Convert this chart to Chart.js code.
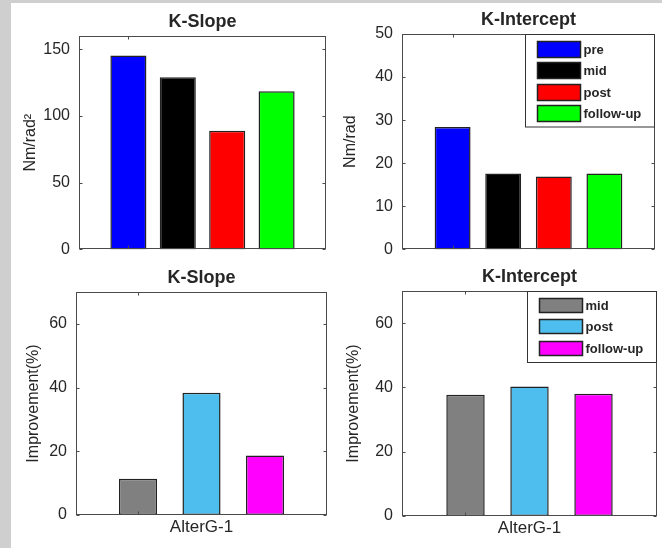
<!DOCTYPE html>
<html>
<head>
<meta charset="utf-8">
<script src="https://cdn.jsdelivr.net/npm/chart.js@4.4.0/dist/chart.umd.min.js"></script>
<style>
  body { margin: 0; background: #fff; }
  #page { position: relative; width: 662px; height: 548px; background: #fff; overflow: hidden; }
  .frame-top { position: absolute; left: 0; top: 0; width: 662px; height: 3px; background: #cfcfcf; }
  .frame-left { position: absolute; left: 0; top: 0; width: 11px; height: 548px; background: #cfcfcf; }
  canvas { position: absolute; }
</style>
</head>
<body>
<div id="page">
  <div class="frame-top"></div>
  <div class="frame-left"></div>
  <canvas id="slope"></canvas>
  <canvas id="intercept"></canvas>
  <canvas id="slopeChange"></canvas>
  <canvas id="interceptChange"></canvas>
</div>
<script>
// values
const phaseLabels = ['pre', 'mid', 'post', 'follow-up'];
const phaseColors = ['#0000ff', '#000000', '#ff0000', '#00ff00'];
const kSlope = [145.3, 129.0, 89.0, 118.6];
const kIntercept = [28.4, 17.6, 16.9, 17.6];

const changeLabels = ['mid', 'post', 'follow-up'];
const changeColors = ['#808080', '#4dbeee', '#ff00ff'];
const kSlopeChange = [11.4, 38.4, 18.7];
const kInterceptChange = [37.7, 40.3, 38.0];

const groupNames = ['AlterG-1'];
const slopeTicks = [0, 50, 100, 150];
const interceptTicks = [0, 10, 20, 30, 40, 50];
const changeTicks = [0, 20, 40, 60];

const FONT = "'Liberation Sans', Arial, Helvetica, sans-serif";
const TEXT = '#262626';
const AXIS = '#4a4a4a';

// draws the MATLAB-like box, inner ticks, title and legend
const matlabAxes = {
  id: 'matlabAxes',
  afterDraw(chart, args, opts) {
    const { ctx, chartArea: a, scales } = chart;
    const y = scales.y;
    const L = Math.round(a.left) + 0.5, R = Math.round(a.right) - 0.5;
    const T = Math.round(a.top) + 0.5, B = Math.round(a.bottom) - 0.5;
    ctx.save();
    ctx.strokeStyle = AXIS;
    ctx.lineWidth = 1;
    ctx.strokeRect(L, T, R - L, B - T);

    ctx.beginPath();
    y.ticks.forEach(t => {
      const py = Math.round(y.getPixelForValue(t.value)) + 0.5;
      ctx.moveTo(L, py); ctx.lineTo(L + 3, py);
      ctx.moveTo(R, py); ctx.lineTo(R - 3, py);
    });
    const bx = Math.round(chart.getDatasetMeta(0).data[0].x) + 0.5;
    ctx.moveTo(bx, T); ctx.lineTo(bx, T + 3);
    ctx.moveTo(bx, B); ctx.lineTo(bx, B - 3);
    ctx.stroke();

    ctx.fillStyle = TEXT;
    ctx.font = 'bold 18px ' + FONT;
    ctx.textAlign = 'center';
    ctx.textBaseline = 'alphabetic';
    ctx.fillText(opts.title, (a.left + a.right) / 2, a.top - 9);

    if (opts.legend) {
      const sets = chart.data.datasets;
      const w = 130, rowH = 21.5, pad = 6.5;
      const h = pad + sets.length * rowH;
      const bxL = Math.round(a.right - w) + 0.5;
      ctx.fillStyle = '#fff';
      ctx.fillRect(bxL, T, w, h);
      ctx.strokeStyle = '#333';
      ctx.strokeRect(bxL, T, R - bxL, h);
      ctx.font = 'bold 13px ' + FONT;
      ctx.textAlign = 'left';
      ctx.textBaseline = 'middle';
      sets.forEach((ds, i) => {
        const sy = Math.round(a.top + pad + i * rowH) + 0.5;
        ctx.fillStyle = ds.backgroundColor;
        ctx.fillRect(bxL + 12, sy, 43, opts.swatchH);
        ctx.lineWidth = 1.5;
        ctx.strokeStyle = '#222';
        ctx.strokeRect(bxL + 12, sy, 43, opts.swatchH);
        ctx.fillStyle = TEXT;
        ctx.fillText(ds.label, bxL + 58, sy + opts.swatchH / 2 + 1);
      });
    }
    ctx.restore();
  }
};

// page positions of each panel's axes box
function makePanel(id, spec) {
  const cv = document.getElementById(id);
  const [cl, ct, cw, ch] = spec.canvas;
  cv.width = cw; cv.height = ch;
  cv.style.left = cl + 'px'; cv.style.top = ct + 'px';
  cv.style.width = cw + 'px'; cv.style.height = ch + 'px';
  const left = spec.area[0] - cl, top = spec.area[1] - ct;
  const right = spec.area[2] - cl, bottom = spec.area[3] - ct;

  const datasets = spec.values.map((v, i) => ({
    label: spec.labels[i],
    data: [v],
    backgroundColor: spec.colors[i],
    borderColor: '#222',
    borderWidth: 1.5,
    borderSkipped: false,
    categoryPercentage: spec.catPct,
    barPercentage: spec.barPct
  }));

  return new Chart(cv, {
    type: 'bar',
    data: { labels: spec.xLabels, datasets },
    options: {
      responsive: false,
      animation: false,
      layout: { padding: { left: 0, top: top, right: cw - right, bottom: 0 } },
      plugins: {
        legend: { display: false },
        tooltip: { enabled: false },
        matlabAxes: { title: spec.title, legend: spec.legend, swatchH: spec.swatchH }
      },
      scales: {
        x: {
          grid: { display: false, drawTicks: false },
          border: { display: false },
          ticks: { display: spec.showX, padding: 2, color: TEXT, font: { family: FONT, size: 17 } },
          afterFit: s => { s.height = ch - bottom; }
        },
        y: {
          min: 0,
          max: spec.yMax,
          grid: { display: false, drawTicks: false },
          border: { display: false },
          afterBuildTicks: s => { s.ticks = spec.ticks.map(v => ({ value: v })); },
          ticks: { padding: 9, color: TEXT, font: { family: FONT, size: 16 } },
          title: {
            display: true,
            text: spec.yTitle,
            color: TEXT,
            font: { family: FONT, size: 16 },
            padding: { top: spec.yTitlePad, bottom: 0 }
          },
          afterFit: s => { s.width = left; }
        }
      }
    },
    plugins: [matlabAxes]
  });
}

makePanel('slope', {
  canvas: [11, 3, 320, 265], area: [79, 36, 326, 254],
  title: 'K-Slope', yTitle: 'Nm/rad\u00b2', yTitlePad: 10, yMax: 160, ticks: slopeTicks,
  labels: phaseLabels, colors: phaseColors, values: kSlope, xLabels: [''],
  showX: false, legend: false, catPct: 0.8, barPct: 0.73
});

makePanel('intercept', {
  canvas: [331, 3, 331, 265], area: [402, 34, 655, 251],
  title: 'K-Intercept', yTitle: 'Nm/rad', yTitlePad: 10, yMax: 50, ticks: interceptTicks,
  labels: phaseLabels, colors: phaseColors, values: kIntercept, xLabels: [''],
  showX: false, legend: true, swatchH: 16, catPct: 0.8, barPct: 0.71
});

makePanel('slopeChange', {
  canvas: [11, 268, 320, 280], area: [76, 292, 327, 515],
  title: 'K-Slope', yTitle: 'Improvement(%)', yTitlePad: 13, yMax: 70, ticks: changeTicks,
  labels: changeLabels, colors: changeColors, values: kSlopeChange, xLabels: groupNames,
  showX: true, legend: false, catPct: 0.759, barPct: 0.6
});

makePanel('interceptChange', {
  canvas: [331, 268, 331, 280], area: [402, 291, 657, 516],
  title: 'K-Intercept', yTitle: 'Improvement(%)', yTitlePad: 13, yMax: 70, ticks: changeTicks,
  labels: changeLabels, colors: changeColors, values: kInterceptChange, xLabels: groupNames,
  showX: true, legend: true, swatchH: 14, catPct: 0.753, barPct: 0.6
});
</script>
</body>
</html>
